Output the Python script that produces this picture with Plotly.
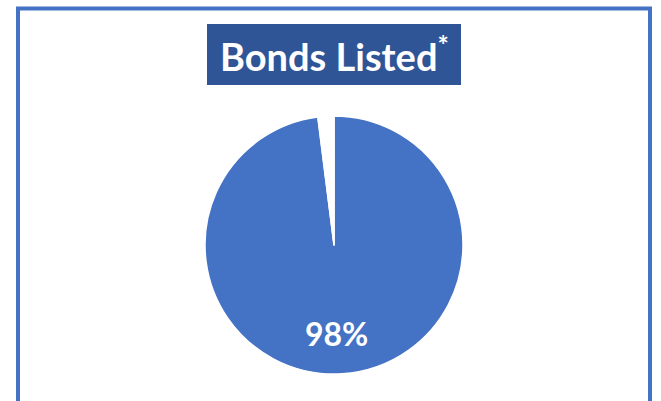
import plotly.graph_objects as go

# Share of bonds that are listed
categories = ["Listed", "Not listed"]
shares = [98, 2]
slice_colors = ["#4472C4", "#FFFFFF"]
title_text = "Bonds Listed"

W, H = 661, 401


def px_x(x):
    return x / W


def px_y(y):
    return 1 - y / H


fig = go.Figure(
    go.Pie(
        labels=categories,
        values=shares,
        sort=False,
        direction="clockwise",
        rotation=0,
        marker=dict(colors=slice_colors, line=dict(color="#FFFFFF", width=1.5)),
        textinfo="none",
        hoverinfo="label+percent",
        domain=dict(x=[px_x(205), px_x(463)], y=[px_y(374), px_y(116)]),
        showlegend=False,
    )
)

# outer frame
fig.add_shape(
    type="rect", xref="paper", yref="paper",
    x0=px_x(18), x1=px_x(650), y0=px_y(430), y1=px_y(8.5),
    line=dict(color="#4472C4", width=4), fillcolor="rgba(0,0,0,0)",
)

# title banner
fig.add_shape(
    type="rect", xref="paper", yref="paper",
    x0=px_x(207), x1=px_x(461), y0=px_y(85), y1=px_y(24),
    line=dict(width=0), fillcolor="#2F5597",
)
fig.add_annotation(
    xref="paper", yref="paper", x=px_x(334), y=px_y(54),
    xanchor="center", yanchor="middle",
    text=f"<b>{title_text}<sup>*</sup></b>", showarrow=False,
    font=dict(family="Lato", size=38, color="#FFFFFF"),
)

# value label on the large slice
fig.add_annotation(
    xref="paper", yref="paper", x=px_x(336), y=px_y(333),
    xanchor="center", yanchor="middle",
    text=f"<b>{shares[0]}%</b>", showarrow=False,
    font=dict(family="Lato", size=32, color="#FFFFFF"),
)

fig.update_layout(
    width=W, height=H,
    margin=dict(l=0, r=0, t=0, b=0),
    paper_bgcolor="#FFFFFF", plot_bgcolor="#FFFFFF",
)

fig.write_html("out.html")
